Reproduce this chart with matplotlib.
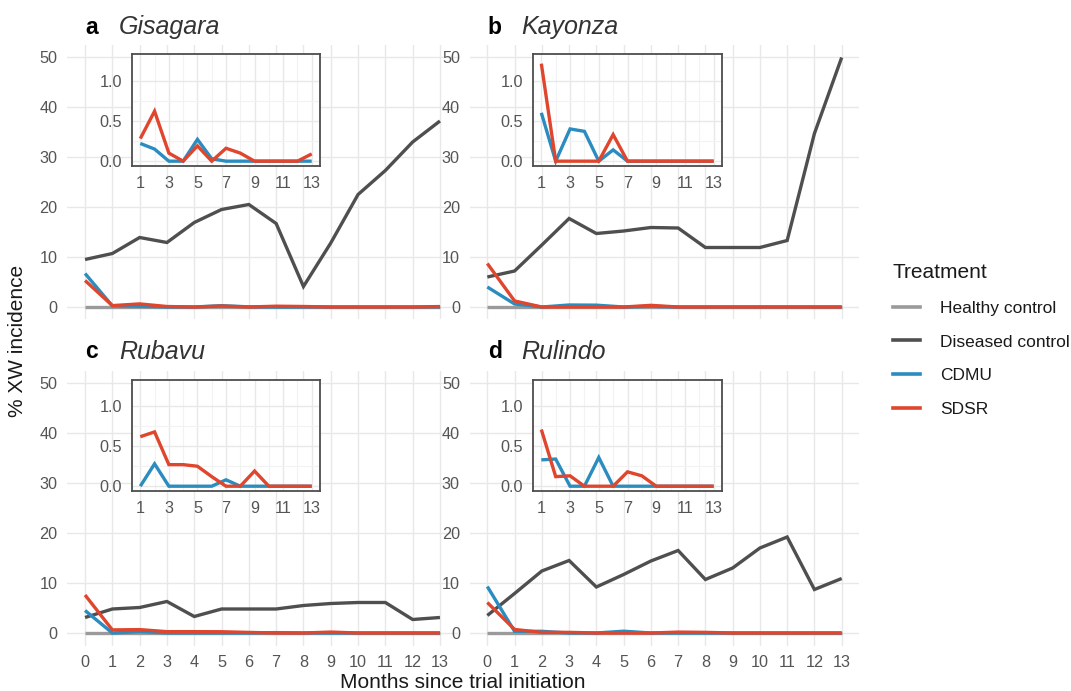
import matplotlib
matplotlib.use('Agg')
import matplotlib.pyplot as plt
from matplotlib.lines import Line2D
import numpy as np

plt.rcParams['font.family'] = ['Liberation Sans', 'DejaVu Sans']

W, H = 1071, 691

# ---------------------------------------------------------------
# data (% XW incidence per month)
# ---------------------------------------------------------------
months = np.arange(14)
sites = ['Gisagara', 'Kayonza', 'Rubavu', 'Rulindo']
panel_letters = ['a', 'b', 'c', 'd']
treatments = ['Healthy control', 'Diseased control', 'CDMU', 'SDSR']

healthy_gisagara = [0, 0, 0, 0, 0, 0, 0, 0, 0, 0, 0, 0, 0, 0]
healthy_kayonza = [0, 0, 0, 0, 0, 0, 0, 0, 0, 0, 0, 0, 0, 0]
healthy_rubavu = [0, 0, 0, 0, 0, 0, 0, 0, 0, 0, 0, 0, 0, 0]
healthy_rulindo = [0, 0, 0, 0, 0, 0, 0, 0, 0, 0, 0, 0, 0, 0]

diseased_gisagara = [9.5, 10.7, 13.9, 12.9, 16.9, 19.5, 20.5, 16.7, 4.1, 12.8, 22.5, 27.3, 33.0, 37.2]
diseased_kayonza = [6.0, 7.2, 12.4, 17.7, 14.7, 15.2, 15.9, 15.8, 11.9, 11.9, 11.9, 13.3, 34.7, 49.9]
diseased_rubavu = [3.1, 4.8, 5.1, 6.3, 3.3, 4.8, 4.8, 4.8, 5.5, 5.9, 6.1, 6.1, 2.7, 3.1]
diseased_rulindo = [3.5, 7.9, 12.4, 14.5, 9.2, 11.7, 14.4, 16.5, 10.7, 13.0, 17.0, 19.2, 8.7, 10.9]

cdmu_gisagara = [6.7, 0.22, 0.15, 0, 0, 0.27, 0.03, 0, 0, 0, 0, 0, 0, 0]
cdmu_kayonza = [4.0, 0.60, 0, 0.40, 0.37, 0, 0.14, 0, 0, 0, 0, 0, 0, 0]
cdmu_rubavu = [4.5, 0, 0.28, 0, 0, 0, 0, 0.08, 0, 0, 0, 0, 0, 0]
cdmu_rulindo = [9.3, 0.33, 0.34, 0, 0, 0.36, 0, 0, 0, 0, 0, 0, 0, 0]

sdsr_gisagara = [5.3, 0.28, 0.62, 0.10, 0, 0.19, 0, 0.16, 0.10, 0, 0, 0, 0, 0.09]
sdsr_kayonza = [8.7, 1.21, 0, 0, 0, 0, 0.33, 0, 0, 0, 0, 0, 0, 0]
sdsr_rubavu = [7.6, 0.62, 0.68, 0.27, 0.27, 0.25, 0.12, 0, 0, 0.19, 0, 0, 0, 0]
sdsr_rulindo = [6.1, 0.71, 0.12, 0.13, 0, 0, 0, 0.18, 0.13, 0, 0, 0, 0, 0]

healthy = [healthy_gisagara, healthy_kayonza, healthy_rubavu, healthy_rulindo]
diseased = [diseased_gisagara, diseased_kayonza, diseased_rubavu, diseased_rulindo]
cdmu = [cdmu_gisagara, cdmu_kayonza, cdmu_rubavu, cdmu_rulindo]
sdsr = [sdsr_gisagara, sdsr_kayonza, sdsr_rubavu, sdsr_rulindo]

colors = {
    'Healthy control': '#9a9a9a',
    'Diseased control': '#4f4f4f',
    'CDMU': '#2b8cbf',
    'SDSR': '#e0452d',
}
grid_col = '#e8e8e8'
tick_col = '#555555'


def px_box(l, t, r, b):
    return [l / W, 1 - b / H, (r - l) / W, (b - t) / H]


fig = plt.figure(figsize=(W / 100, H / 100), dpi=100)
fig.patch.set_facecolor('white')

# pixel boxes of the four main panels and their insets
main_boxes = [(67.3, 44.5, 457.7, 319.5), (469.6, 44.5, 859.4, 319.5),
              (67.3, 370.5, 457.7, 645.5), (469.6, 370.5, 859.4, 645.5)]
inset_boxes = [(132, 54, 320, 166), (533, 54, 722, 166),
               (132, 380, 320, 491), (533, 380, 722, 491)]


def style_minimal(ax):
    for s in ax.spines.values():
        s.set_visible(False)
    ax.tick_params(length=0, colors=tick_col, labelsize=11.7, pad=7)
    ax.grid(True, color=grid_col, linewidth=1.0)
    ax.set_axisbelow(True)


for i in range(4):
    ax = fig.add_axes(px_box(*main_boxes[i]))
    style_minimal(ax)
    series = [healthy[i], diseased[i], cdmu[i], sdsr[i]]
    for name, vals in zip(treatments, series):
        ax.plot(months, vals, color=colors[name], lw=2.4, solid_joinstyle='miter',
                solid_capstyle='butt')
    ax.set_xlim(-0.65, 13.65)
    ax.set_ylim(-2.5, 52.5)
    ax.set_xticks(months)
    ax.set_yticks([0, 10, 20, 30, 40, 50])
    if i < 2:
        ax.set_xticklabels([])
    # panel title
    l, t, r, b = main_boxes[i]
    x0 = l + 0.65 / 14.3 * (r - l)
    ty = 27 if i < 2 else 352
    fig.text((x0 + 0.5) / W, 1 - ty / H, panel_letters[i], fontsize=16.5, fontweight='bold',
             color='black', ha='left', va='center')
    fig.text((x0 + 34) / W, 1 - ty / H, sites[i], fontsize=18, style='italic',
             color='#333333', ha='left', va='center')

    # inset with months 1-13 zoomed
    axi = fig.add_axes(px_box(*inset_boxes[i]))
    axi.set_facecolor('white')
    for s in axi.spines.values():
        s.set_color('#4d4d4d')
        s.set_linewidth(1.3)
    axi.tick_params(length=0, colors=tick_col, labelsize=11.7, pad=7)
    axi.set_xticks(np.arange(1, 14, 2))
    axi.set_xticks(np.arange(2, 13, 2), minor=True)
    axi.set_yticks([0, 0.5, 1.0])
    axi.set_yticks([0.25, 0.75], minor=True)
    axi.yaxis.set_major_formatter(matplotlib.ticker.FormatStrFormatter('%.1f'))
    axi.tick_params(which='minor', length=0)
    axi.grid(True, which='major', color=grid_col, linewidth=1.0)
    axi.grid(True, which='minor', color='#f2f2f2', linewidth=0.8)
    axi.set_axisbelow(True)
    axi.plot(months[1:], cdmu[i][1:], color=colors['CDMU'], lw=2.4,
             solid_joinstyle='miter', solid_capstyle='butt')
    axi.plot(months[1:], sdsr[i][1:], color=colors['SDSR'], lw=2.4,
             solid_joinstyle='miter', solid_capstyle='butt')
    axi.set_xlim(0.42, 13.58)
    axi.set_ylim(-0.06, 1.33)

# axis titles
fig.text(463 / W, 1 - 683 / H, 'Months since trial initiation', fontsize=15,
         color='#1a1a1a', ha='center', va='center')
fig.text(18 / W, 1 - 341 / H, '% XW incidence', fontsize=15, color='#1a1a1a',
         ha='center', va='center', rotation=90)

# legend
handles = [Line2D([0], [0], color=colors[t], lw=2.6) for t in treatments]
leg = fig.legend(handles, treatments, title='Treatment', loc='upper left',
                 bbox_to_anchor=(886 / W, 1 - 256.5 / H), frameon=False,
                 fontsize=12.5, title_fontsize=15, handlelength=1.53,
                 handletextpad=1.2, labelspacing=1.06, alignment='left',
                 borderaxespad=0)
for txt in leg.get_texts():
    txt.set_color('#1a1a1a')
leg.get_title().set_color('#1a1a1a')

fig.savefig('out.png', dpi=100, facecolor='white')
